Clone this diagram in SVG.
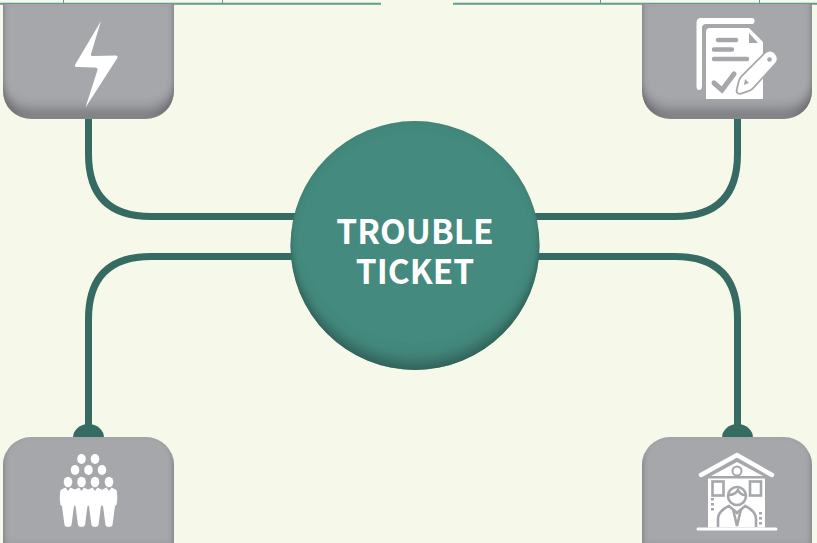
<svg xmlns="http://www.w3.org/2000/svg" width="817" height="543" viewBox="0 0 817 543">
<style>
.wire{fill:none;stroke:#356b62;stroke-width:7}
.box{fill:#a6a7ab;filter:url(#inA)}
.ic{fill:#fff}
.cut{fill:#a6a7ab}
.cuts{fill:none;stroke:#a6a7ab;stroke-linecap:round}
.lw{fill:none;stroke:#fff;stroke-linecap:round}
.label{font-family:"Noto Sans CJK SC","Noto Sans",sans-serif;font-weight:700;font-size:33.500px;fill:#fff;text-anchor:middle}
</style>
<defs>
<filter id="inA" x="-10%" y="-10%" width="120%" height="120%">
<feComponentTransfer in="SourceAlpha" result="inv"><feFuncA type="table" tableValues="1 0"/></feComponentTransfer>
<feOffset in="inv" dy="-9" result="off"/>
<feGaussianBlur in="off" stdDeviation="3 7" result="b"/>
<feFlood flood-color="#67676a" flood-opacity="1"/>
<feComposite in2="b" operator="in"/>
<feComposite in2="SourceAlpha" operator="in" result="sh"/>
<feMerge><feMergeNode in="SourceGraphic"/><feMergeNode in="sh"/></feMerge>
</filter>
<filter id="inB" x="-10%" y="-10%" width="120%" height="120%">
<feComponentTransfer in="SourceAlpha" result="inv"><feFuncA type="table" tableValues="1 0"/></feComponentTransfer>
<feOffset in="inv" dy="-8" result="off"/>
<feGaussianBlur in="off" stdDeviation="3 8" result="b"/>
<feFlood flood-color="#2f5a53" flood-opacity="1"/>
<feComposite in2="b" operator="in"/>
<feComposite in2="SourceAlpha" operator="in" result="sh"/>
<feMerge><feMergeNode in="SourceGraphic"/><feMergeNode in="sh"/></feMerge>
</filter>
<g id="man">
<ellipse cx="0" cy="-12" rx="4.300" ry="5.300"/>
<path d="M-2.500 -6.500L0 -3L2.500 -6.500L7.500 -4Q9 4 7.500 11L6 12L3.500 31Q3 33 0 33Q-3 33 -3.500 31L-6 12L-7.500 11Q-9 4 -7.500 -4Z"/>
</g>
</defs>
<rect width="817" height="543" fill="#f6f8ea"/>
<g id="top-rules" fill="none">
<path d="M0 3.700H381M453 3.700H817" stroke="#5f9c94" stroke-width="2"/>
<path d="M63.500 0V3M222.500 0V3M600.500 0V3M759.500 0V3" stroke="#5f9c94" stroke-width="1"/>
</g>
<g id="connectors">
<path class="wire" d="M88.500 115V154Q88.500 216.500 151 216.500H300"/>
<path class="wire" d="M737.500 115V154Q737.500 216.500 675 216.500H530"/>
<path class="wire" d="M88.500 430V319Q88.500 256.500 151 256.500H300"/>
<path class="wire" d="M737.500 430V319Q737.500 256.500 675 256.500H530"/>
<path d="M73 438A15.500 14 0 0 1 104 438Z" fill="#356b62"/>
<path d="M722 438A15.500 14 0 0 1 753 438Z" fill="#356b62"/>
</g>
<g id="node-power">
<path class="box" d="M3 4H174V91A28 28 0 0 1 146 119H31A28 28 0 0 1 3 91Z"/>
<path class="ic" d="M101 21L91 54Q90.500 56 93 56L116 55.500Q118.500 56 117 58.500L85.500 107.500L97.500 70Q98 67.500 95 67.500L76.500 67Q74 67 75.500 64Z"/>
</g>
<g id="node-document">
<path class="box" d="M642 4H812V91A28 28 0 0 1 784 119H670A28 28 0 0 1 642 91Z"/>
<path class="ic" d="M701 18H752Q754.500 18 754.500 21Q754.500 24 752 24H706Q702 24 702 28V86Q702 90 699 90Q696.500 90 696.500 86V23Q696.500 18 701 18Z"/>
<path class="ic" d="M710 28H749L763 42V99H706V32Q706 28 710 28Z"/>
<path class="cut" d="M749 33L758 43H749Z"/>
<g class="cuts" stroke-width="4.500">
<path d="M718 40H736M714 49.500H732M714 59H747"/>
<path d="M714 83L722 90L734 74" stroke-width="5"/>
</g>
<path d="M766 53Q770 50 774 53L776 56Q778 60 775 63L752 88Q750 90 746 91L740 93Q737 93 737.500 90L739 84Q740 79 742 77Z" fill="#fff" stroke="#a6a7ab" stroke-width="3.500" paint-order="stroke"/>
<circle cx="769.500" cy="59.500" r="2.300" fill="#a6a7ab"/>
<path d="M745 79L749 83L744 85Z" fill="#a6a7ab"/>
</g>
<g id="node-people">
<path class="box" d="M3 465A28 28 0 0 1 31 437H146A28 28 0 0 1 174 465V560H3Z"/>
<g class="ic">
<ellipse cx="81.500" cy="459" rx="4.300" ry="5"/><ellipse cx="95" cy="459" rx="4.300" ry="5"/>
<ellipse cx="75" cy="470" rx="4.300" ry="5"/><ellipse cx="88.500" cy="470" rx="4.300" ry="5"/><ellipse cx="102" cy="470" rx="4.300" ry="5"/>
<use href="#man" x="68" y="494"/><use href="#man" x="81.500" y="494"/><use href="#man" x="95" y="494"/><use href="#man" x="109" y="494"/>
</g>
</g>
<g id="node-office">
<path class="box" d="M642 465A28 28 0 0 1 670 437H784A28 28 0 0 1 812 465V560H642Z"/>
<path class="lw" stroke-width="4.500" d="M701 475L737 455L772 475"/>
<path class="lw" stroke-width="3" d="M698 529H776"/>
<path class="ic" d="M711 476L737 462L763 476Z"/>
<rect class="ic" x="708" y="478.500" width="57" height="49"/>
<circle cx="737" cy="471" r="4.500" fill="#fff" stroke="#a6a7ab" stroke-width="2"/>
<g fill="none" stroke="#a6a7ab" stroke-width="2.600">
<rect x="712.500" y="481.500" width="11" height="14"/>
<rect x="750" y="481.500" width="11" height="14"/>
<circle cx="737" cy="496" r="9"/>
<path d="M728.500 495Q735 495 738 490Q740 495 745.500 495"/>
<path d="M718 527V519Q718 511 729 506L737 513L745 506Q756 511 756 519V527"/>
<path d="M733 509L737 526L741 509"/>
</g>
<g class="cut">
<rect x="711" y="498" width="3" height="2.500"/><rect x="711" y="503" width="3" height="2.500"/><rect x="711" y="508" width="3" height="2.500"/>
<rect x="759" y="512" width="3" height="2.500"/><rect x="759" y="517" width="3" height="2.500"/><rect x="759" y="522" width="3" height="2.500"/>
</g>
</g>
<g id="node-center">
<circle cx="415" cy="245.500" r="124.500" fill="#458a7e" filter="url(#inB)"/>
<text class="label" x="415" y="243.500">TROUBLE</text>
<text class="label" x="415" y="284">TICKET</text>
</g>
</svg>
